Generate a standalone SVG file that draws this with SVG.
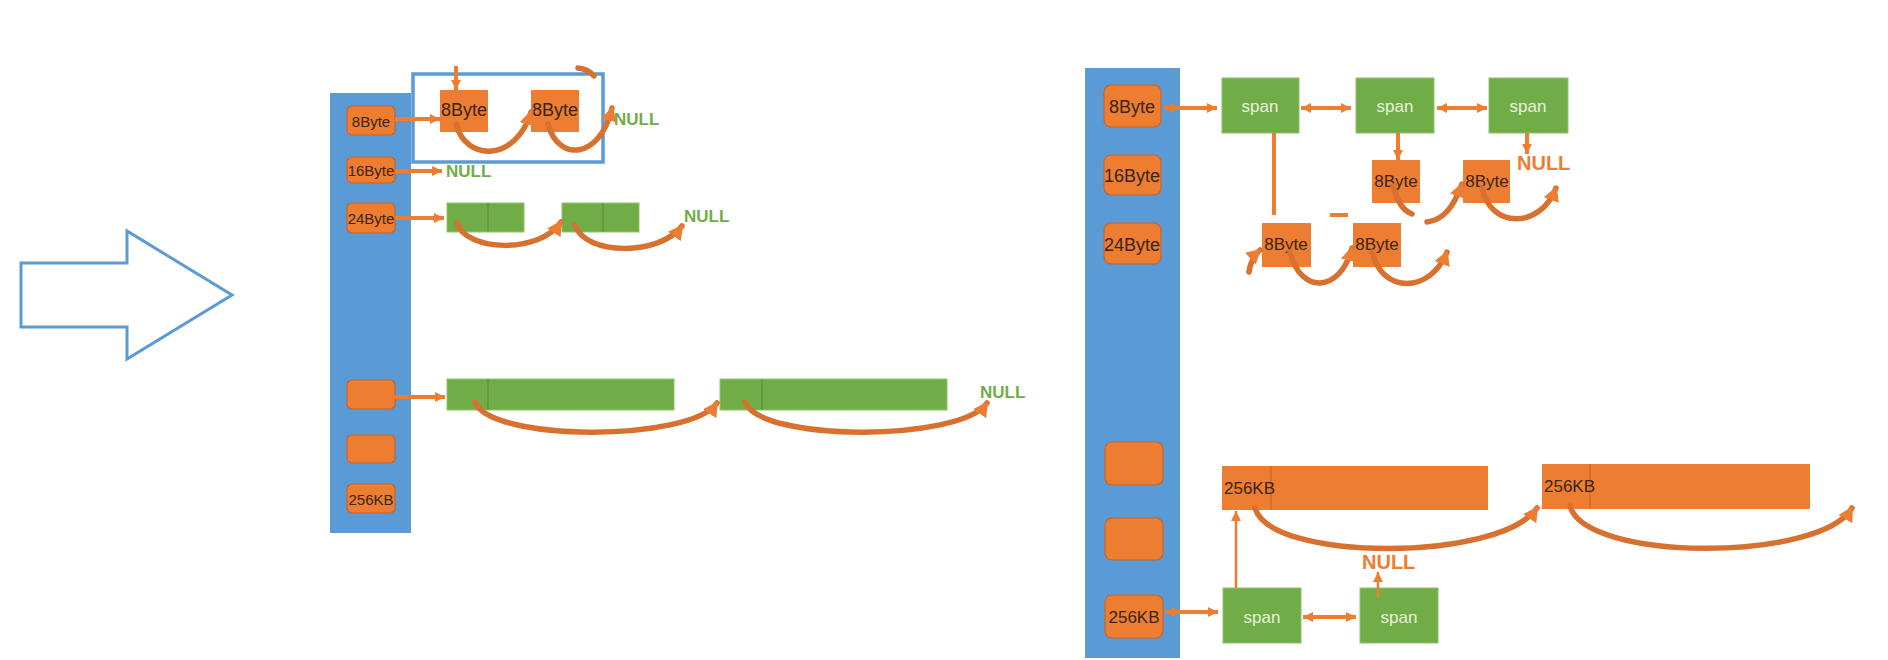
<svg xmlns="http://www.w3.org/2000/svg" width="1888" height="660" viewBox="0 0 1888 660">
<style>
.col{fill:#5b9bd5}
.ob{fill:#ed7d31;stroke:#c8652a;stroke-width:1.2}
.on{fill:#ed7d31}
.gb{fill:#70ad47;stroke:#8fc16a;stroke-width:1}
.dv{stroke:#5a9238;stroke-width:1.2}
.t{font-family:"Liberation Sans",Arial,sans-serif;fill:#3a2516;dominant-baseline:central}
.sp{font-family:"Liberation Sans",Arial,sans-serif;fill:#e6f2de;font-size:17px;text-anchor:middle;dominant-baseline:central}
.ng{font-family:"Liberation Sans",Arial,sans-serif;font-weight:bold;fill:#70ad47;font-size:17px;dominant-baseline:central}
.no{font-family:"Liberation Sans",Arial,sans-serif;font-weight:bold;fill:#ed7d31;font-size:20px;dominant-baseline:central}
.ln{stroke:#ed7d31;stroke-width:4;fill:none}
.thin{stroke:#ed7d31;stroke-width:2.5;fill:none}
.cv{stroke:#d8702f;stroke-width:5.5;fill:none;stroke-linecap:round}
</style>
<defs>
<marker id="ah" markerUnits="userSpaceOnUse" markerWidth="12" markerHeight="12" refX="10" refY="6" orient="auto">
<path d="M0,1 L10,6 L0,11 Z" fill="#ed7d31"/>
</marker>
<marker id="ahs" markerUnits="userSpaceOnUse" markerWidth="12" markerHeight="12" refX="10" refY="6" orient="auto-start-reverse">
<path d="M0,1 L10,6 L0,11 Z" fill="#ed7d31"/>
</marker>
<marker id="ch" markerUnits="userSpaceOnUse" markerWidth="18" markerHeight="18" refX="13" refY="9" orient="auto">
<path d="M0,1 L15,9 L0,17 Z" fill="#ed7d31"/>
</marker>
</defs>

<g id="big-arrow">
<path d="M21,263 L127,263 L127,231 L232,295 L127,359 L127,327 L21,327 Z" fill="none" stroke="#5b9bd5" stroke-width="3"/>
</g>

<!-- LEFT -->
<g id="left-column">
<rect class="col" x="330" y="93" width="81" height="440"/>
</g>
<g id="l-8byte"><rect class="ob" x="347" y="106" width="48" height="29" rx="5"/><text class="t" x="371" y="121" font-size="15" text-anchor="middle">8Byte</text></g>
<g id="l-16byte"><rect class="ob" x="347" y="157" width="48" height="26" rx="5"/><text class="t" x="371" y="170" font-size="15" text-anchor="middle">16Byte</text></g>
<g id="l-24byte"><rect class="ob" x="347" y="203" width="48" height="30" rx="5"/><text class="t" x="371" y="218" font-size="15" text-anchor="middle">24Byte</text></g>
<g id="l-blank1"><rect class="ob" x="347" y="380" width="48" height="29" rx="5"/></g>
<g id="l-blank2"><rect class="ob" x="347" y="435" width="48" height="28" rx="5"/></g>
<g id="l-256kb"><rect class="ob" x="347" y="484" width="48" height="29" rx="5"/><text class="t" x="371" y="499" font-size="15" text-anchor="middle">256KB</text></g>

<g id="l-highlight"><rect x="413" y="74" width="190" height="88" fill="none" stroke="#5b9bd5" stroke-width="3.5"/></g>
<g id="l-node1"><rect class="on" x="440" y="90" width="48" height="42"/><text class="t" x="464" y="110" font-size="18" text-anchor="middle">8Byte</text></g>
<g id="l-node2"><rect class="on" x="531" y="90" width="48" height="42"/><text class="t" x="555" y="110" font-size="18" text-anchor="middle">8Byte</text></g>
<g id="l-null1"><text class="ng" x="614" y="119">NULL</text></g>
<g id="l-null2"><text class="ng" x="446" y="171">NULL</text></g>

<g id="l-g1"><rect class="gb" x="447" y="203" width="77" height="29"/><line class="dv" x1="488" y1="203" x2="488" y2="232"/></g>
<g id="l-g2"><rect class="gb" x="562" y="203" width="77" height="29"/><line class="dv" x1="603" y1="203" x2="603" y2="232"/></g>
<g id="l-null3"><text class="ng" x="684" y="216" font-size="18">NULL</text></g>

<g id="l-bar1"><rect class="gb" x="447" y="379" width="227" height="31"/><line class="dv" x1="488" y1="379" x2="488" y2="410"/></g>
<g id="l-bar2"><rect class="gb" x="720" y="379" width="227" height="31"/><line class="dv" x1="762" y1="379" x2="762" y2="410"/></g>
<g id="l-null4"><text class="ng" x="980" y="392" font-size="18">NULL</text></g>

<!-- RIGHT -->
<g id="right-column"><rect class="col" x="1085" y="68" width="95" height="590"/></g>
<g id="r-8byte"><rect class="ob" x="1104" y="85" width="57" height="42" rx="7"/><text class="t" x="1132" y="107" font-size="18" text-anchor="middle">8Byte</text></g>
<g id="r-16byte"><rect class="ob" x="1104" y="155" width="57" height="40" rx="7"/><text class="t" x="1132" y="176" font-size="18" text-anchor="middle">16Byte</text></g>
<g id="r-24byte"><rect class="ob" x="1104" y="223" width="57" height="41" rx="7"/><text class="t" x="1132" y="245" font-size="18" text-anchor="middle">24Byte</text></g>
<g id="r-blank1"><rect class="ob" x="1105" y="442" width="58" height="43" rx="7"/></g>
<g id="r-blank2"><rect class="ob" x="1105" y="518" width="58" height="42" rx="7"/></g>
<g id="r-256kb"><rect class="ob" x="1105" y="595" width="58" height="43" rx="7"/><text class="t" x="1134" y="617" font-size="17" text-anchor="middle">256KB</text></g>

<g id="r-span1"><rect class="gb" x="1222" y="78" width="77" height="55"/><text class="sp" x="1260" y="106">span</text></g>
<g id="r-span2"><rect class="gb" x="1356" y="78" width="78" height="55"/><text class="sp" x="1395" y="106">span</text></g>
<g id="r-span3"><rect class="gb" x="1489" y="78" width="79" height="55"/><text class="sp" x="1528" y="106">span</text></g>
<g id="r-null1"><text class="no" x="1517" y="163">NULL</text></g>

<g id="r-n1"><rect class="on" x="1372" y="160" width="48" height="43"/><text class="t" x="1396" y="181" font-size="17" text-anchor="middle">8Byte</text></g>
<g id="r-n2"><rect class="on" x="1463" y="160" width="47" height="43"/><text class="t" x="1487" y="181" font-size="17" text-anchor="middle">8Byte</text></g>
<g id="r-n3"><rect class="on" x="1262" y="223" width="49" height="44"/><text class="t" x="1286" y="244" font-size="17" text-anchor="middle">8Byte</text></g>
<g id="r-n4"><rect class="on" x="1353" y="223" width="48" height="44"/><text class="t" x="1377" y="244" font-size="17" text-anchor="middle">8Byte</text></g>

<g id="r-bar1"><rect class="on" x="1222" y="466" width="266" height="44"/><line x1="1271" y1="466" x2="1271" y2="510" stroke="#c8652a" stroke-width="1.2"/><text class="t" x="1224" y="488" font-size="17">256KB</text></g>
<g id="r-bar2"><rect class="on" x="1542" y="464" width="268" height="45"/><line x1="1590" y1="464" x2="1590" y2="509" stroke="#c8652a" stroke-width="1.2"/><text class="t" x="1544" y="486" font-size="17">256KB</text></g>

<g id="r-spanA"><rect class="gb" x="1223" y="588" width="78" height="55"/><text class="sp" x="1262" y="617">span</text></g>
<g id="r-spanB"><rect class="gb" x="1360" y="588" width="78" height="55"/><text class="sp" x="1399" y="617">span</text></g>
<g id="r-null2"><text class="no" x="1362" y="562">NULL</text></g>

<g id="connectors">
<!-- left straight -->
<line class="ln" x1="395" y1="119" x2="440" y2="119" marker-end="url(#ah)"/>
<line class="ln" x1="456" y1="66" x2="456" y2="90" marker-end="url(#ah)"/>
<line class="ln" x1="395" y1="171" x2="442" y2="171" marker-end="url(#ah)"/>
<line class="ln" x1="395" y1="218" x2="444" y2="218" marker-end="url(#ah)"/>
<line class="ln" x1="394" y1="397" x2="445" y2="397" marker-end="url(#ah)"/>
<!-- left curves -->
<path class="cv" d="M456,124 C466,162 516,162 531,112" marker-end="url(#ch)"/>
<path class="cv" d="M548,124 C558,162 600,160 612,108" marker-end="url(#ch)"/>
<path class="cv" d="M578,68 Q588,69 594,76"/>
<path class="cv" d="M457,223 C466,252 540,254 561,222" marker-end="url(#ch)"/>
<path class="cv" d="M575,225 C585,256 660,256 682,226" marker-end="url(#ch)"/>
<path class="cv" d="M475,402 C490,442 690,442 717,403" marker-end="url(#ch)"/>
<path class="cv" d="M745,402 C760,442 960,442 987,403" marker-end="url(#ch)"/>
<!-- right straight -->
<line class="ln" x1="1164" y1="108" x2="1217" y2="108" stroke-width="5" marker-start="url(#ahs)" marker-end="url(#ah)"/>
<line class="ln" x1="1301" y1="108" x2="1351" y2="108" stroke-width="5" marker-start="url(#ahs)" marker-end="url(#ah)"/>
<line class="ln" x1="1437" y1="108" x2="1487" y2="108" stroke-width="5" marker-start="url(#ahs)" marker-end="url(#ah)"/>
<line class="ln" x1="1274" y1="133" x2="1274" y2="215" stroke-width="5"/>
<line class="ln" x1="1398" y1="133" x2="1398" y2="160" marker-end="url(#ah)"/>
<line class="ln" x1="1527" y1="133" x2="1527" y2="154" marker-end="url(#ah)"/>
<line class="ln" x1="1330" y1="215" x2="1348" y2="215" stroke-width="3"/>
<line class="ln" x1="1165" y1="612" x2="1218" y2="612" stroke-width="5" marker-start="url(#ahs)" marker-end="url(#ah)"/>
<line class="ln" x1="1303" y1="617" x2="1356" y2="617" stroke-width="5" marker-start="url(#ahs)" marker-end="url(#ah)"/>
<line class="thin" x1="1236" y1="588" x2="1236" y2="511" marker-end="url(#ah)"/>
<line class="thin" x1="1378" y1="598" x2="1378" y2="572" marker-end="url(#ah)"/>
<!-- right curves -->
<path class="cv" d="M1393,186 C1398,204 1404,211 1412,214"/>
<path class="cv" d="M1427,222 C1444,220 1454,206 1462,184" marker-end="url(#ch)"/>
<path class="cv" d="M1482,188 C1490,228 1540,230 1556,188" marker-end="url(#ch)"/>
<path class="cv" d="M1249,272 Q1251,258 1260,250" marker-end="url(#ch)"/>
<path class="cv" d="M1290,252 C1300,294 1340,294 1352,248" marker-end="url(#ch)"/>
<path class="cv" d="M1372,252 C1382,294 1430,294 1447,252" marker-end="url(#ch)"/>
<path class="cv" d="M1255,508 C1270,562 1500,562 1537,508" marker-end="url(#ch)"/>
<path class="cv" d="M1570,506 C1585,562 1820,562 1852,508" marker-end="url(#ch)"/>
</g>
</svg>
